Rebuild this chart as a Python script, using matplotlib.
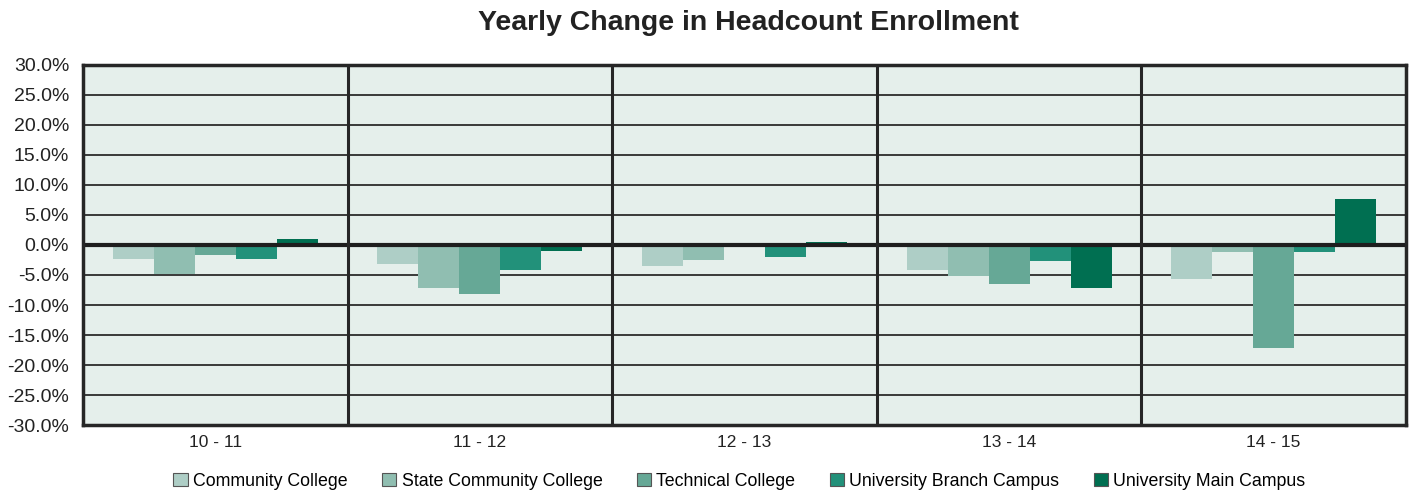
import matplotlib
matplotlib.use("Agg")
import matplotlib.pyplot as plt
import numpy as np
from matplotlib.patches import Patch

plt.rcParams['font.family'] = ['Liberation Sans', 'DejaVu Sans']

categories = ["10 - 11", "11 - 12", "12 - 13", "13 - 14", "14 - 15"]
series_names = ["Community College", "State Community College", "Technical College",
                "University Branch Campus", "University Main Campus"]
community = [-2.3, -3.1, -3.5, -4.2, -5.7]
state_community = [-4.9, -7.2, -2.5, -5.2, -1.2]
technical = [-1.7, -8.2, 0.0, -6.5, -17.1]
univ_branch = [-2.3, -4.2, -2.0, -2.7, -1.2]
univ_main = [1.0, -1.0, 0.5, -7.2, 7.7]
yticks = [30, 25, 20, 15, 10, 5, 0, -5, -10, -15, -20, -25, -30]

colors = ["#aecec6", "#90beb1", "#66a896", "#22917a", "#006f51"]
series = [community, state_community, technical, univ_branch, univ_main]

fig = plt.figure(figsize=(14.14, 4.93), dpi=100)
ax = fig.add_axes([0.0587, 0.1379, 0.9356, 0.7303])
ax.set_facecolor("#e5efeb")

x = np.arange(len(categories))
bw = 0.155
for i, (vals, c) in enumerate(zip(series, colors)):
    ax.bar(x + (i - 2) * bw, vals, width=bw, color=c, zorder=3, label=series_names[i])

ax.set_xlim(-0.5, len(categories) - 0.5)
ax.set_ylim(-30, 30)
ax.set_yticks(yticks)
ax.set_yticklabels([f"{v:.1f}%" for v in yticks], fontsize=14, color="#222222")
ax.set_xticks(x)
ax.set_xticklabels(categories, fontsize=12.5, color="#222222")
ax.tick_params(axis="both", length=0)
ax.tick_params(axis="x", pad=7)
ax.tick_params(axis="y", pad=10)

for v in yticks:
    if v == 0:
        continue
    ax.axhline(v, color="#2b2b2b", lw=1.3, zorder=2)
ax.axhline(0, color="#1e1e1e", lw=3.0, zorder=4)
for b in np.arange(0.5, len(categories) - 0.5, 1):
    ax.axvline(b, color="#262626", lw=2.2, zorder=4)
for s in ax.spines.values():
    s.set_color("#262626")
    s.set_linewidth(2.5)
    s.set_zorder(5)

fig.text(0.529, 0.953, "Yearly Change in Headcount Enrollment", ha="center", va="center",
         fontsize=20.5, fontweight="bold", color="#222222")

handles = [Patch(facecolor=c, edgecolor="#555555", linewidth=0.8) for c in colors]
fig.legend(handles, series_names, loc="center", bbox_to_anchor=(0.523, 0.024), ncol=5,
           frameon=False, fontsize=12.75, handlelength=0.8, handleheight=0.8,
           handletextpad=0.3, columnspacing=1.95, borderaxespad=0)

fig.savefig("out.png", dpi=100)
